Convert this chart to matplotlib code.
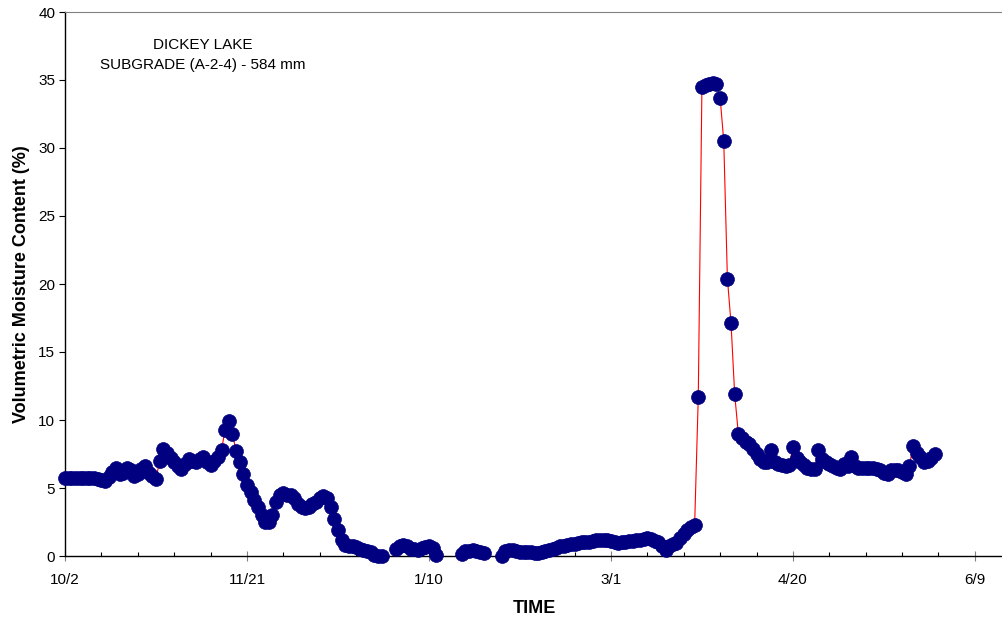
import numpy as np
import matplotlib
matplotlib.use("Agg")
import matplotlib.pyplot as plt
from matplotlib.ticker import MultipleLocator, FixedLocator, FixedFormatter

plt.rcParams['font.family'] = ['Liberation Sans', 'DejaVu Sans']

title_lines = ["DICKEY LAKE", "SUBGRADE (A-2-4) - 584 mm"]
x_label = "TIME"
y_label = "Volumetric Moisture Content (%)"

# days since 10/2 ; None marks a gap in the record
days = list(range(0, 88)) + [88] + list(range(91, 103)) + [105] + list(range(109, 116)) + [117] + list(range(120, 240))

moisture = [
    # d0 - d87
    5.7, 5.7, 5.7, 5.7, 5.7, 5.7, 5.7, 5.7, 5.7, 5.65,
    5.6, 5.55, 5.8, 6.2, 6.5, 6.0, 6.1, 6.5, 6.3, 5.9,
    6.0, 6.4, 6.6, 6.1, 5.9, 5.65, 7.0, 7.9, 7.6, 7.2,
    6.9, 6.6, 6.4, 6.8, 7.1, 7.0, 6.9, 7.1, 7.3, 6.9,
    6.7, 7.0, 7.3, 7.8, 9.3, 9.9, 9.0, 7.7, 6.9, 6.0,
    5.2, 4.7, 4.1, 3.6, 3.0, 2.5, 2.5, 3.0, 4.0, 4.5,
    4.6, 4.5, 4.5, 4.3, 3.8, 3.6, 3.5, 3.6, 3.8, 4.0,
    4.3, 4.4, 4.3, 3.6, 2.7, 1.9, 1.2, 0.8, 0.75, 0.7,
    0.65, 0.55, 0.45, 0.35, 0.3, 0.05, 0.0, 0.0,
    None,
    # d91 - d102
    0.55, 0.7, 0.8, 0.75, 0.55, 0.5, 0.45, 0.6, 0.65, 0.7,
    0.6, 0.1,
    None,
    # d109 - d115
    0.15, 0.35, 0.4, 0.45, 0.35, 0.3, 0.2,
    None,
    # d120 - d239
    0.0, 0.35, 0.45, 0.45, 0.4, 0.3, 0.3, 0.3, 0.3, 0.25,
    0.25, 0.3, 0.35, 0.45, 0.5, 0.6, 0.7, 0.75, 0.8, 0.85,
    0.9, 0.95, 1.0, 1.0, 1.05, 1.1, 1.15, 1.2, 1.2, 1.15,
    1.1, 1.0, 0.95, 1.0, 1.0, 1.1, 1.1, 1.2, 1.2, 1.25,
    1.3, 1.25, 1.1, 1.05, 0.7, 0.45, 0.7, 0.85, 0.95, 1.3,
    1.6, 1.9, 2.1, 2.3, 11.7, 34.5, 34.6, 34.7, 34.8, 34.7,
    33.7, 30.5, 20.4, 17.1, 11.9, 9.0, 8.7, 8.4, 8.2, 7.9,
    7.5, 7.1, 6.9, 6.9, 7.8, 6.9, 6.8, 6.7, 6.6, 6.7,
    8.0, 7.2, 6.9, 6.7, 6.5, 6.4, 6.4, 7.8, 7.1, 6.9,
    6.8, 6.6, 6.5, 6.4, 6.8, 6.6, 7.3, 6.6, 6.5, 6.5,
    6.5, 6.5, 6.5, 6.4, 6.3, 6.1, 6.0, 6.3, 6.3, 6.3,
    6.2, 6.0, 6.6, 8.1, 7.6, 7.3, 6.9, 7.0, 7.2, 7.5,
]

tick_days = [0, 50, 100, 150, 200, 250]
tick_labels = ["10/2", "11/21", "1/10", "3/1", "4/20", "6/9"]

x = np.array(days, dtype=float)
y = np.array([np.nan if v is None else v for v in moisture], dtype=float)

fig = plt.figure(figsize=(10.02, 6.22), dpi=100)
ax = fig.add_axes([65 / 1002, 1 - 556 / 622, 1 - 65 / 1002 + 0.002, (556 - 12) / 622])

ax.plot(x, y, color='#ff0000', lw=0.8, marker='o', markersize=10,
        markerfacecolor='#000080', markeredgecolor='#000080', markeredgewidth=0.5,
        zorder=3, clip_on=False)

ax.set_xlim(0, 258)
ax.set_ylim(0, 40)

ax.xaxis.set_major_locator(FixedLocator(tick_days))
ax.xaxis.set_major_formatter(FixedFormatter(tick_labels))
ax.xaxis.set_minor_locator(MultipleLocator(10))
ax.yaxis.set_major_locator(MultipleLocator(5))

ax.tick_params(axis='x', which='major', direction='inout', length=7, width=0.8,
               color='#808080', labelsize=11, pad=9)
ax.tick_params(axis='x', which='minor', direction='in', length=3, width=0.8, color='black')
ax.tick_params(axis='y', which='major', direction='out', length=4, width=0.8,
               color='black', labelsize=11, pad=3)

ax.spines['right'].set_visible(False)
ax.spines['top'].set_color('#808080')
ax.spines['top'].set_linewidth(0.8)
ax.spines['left'].set_linewidth(1.0)
ax.spines['bottom'].set_linewidth(1.0)

ax.set_xlabel(x_label, fontsize=13, fontweight='bold', labelpad=9)
ax.set_ylabel(y_label, fontsize=13, fontweight='bold', labelpad=6)

fig.text(203 / 1002, 1 - 38 / 622, "\n".join(title_lines), ha='center', va='top',
         fontsize=11, linespacing=1.55)

fig.savefig("out.png", dpi=100)
